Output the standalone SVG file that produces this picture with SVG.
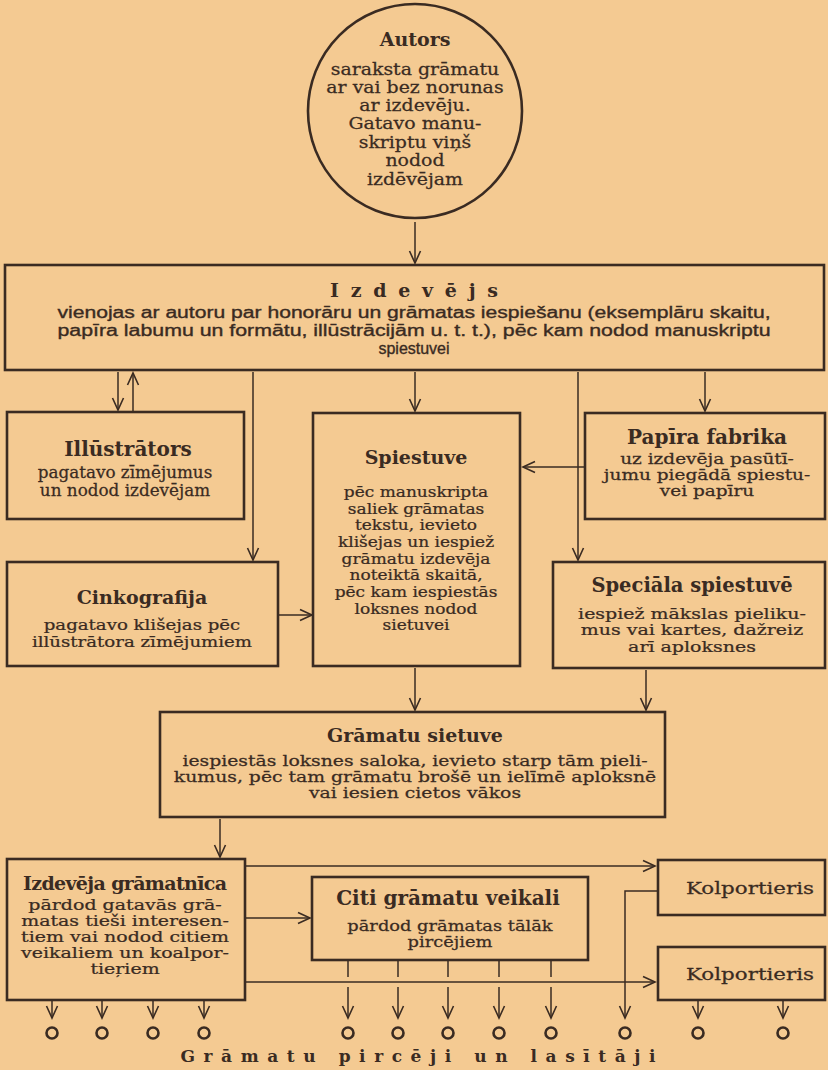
<svg xmlns="http://www.w3.org/2000/svg" width="828" height="1070" viewBox="0 0 828 1070">
<defs>
<style>
.bg{fill:#F4CA92}
.box{fill:none;stroke:#3a2b22;stroke-width:2.6}
.ln{fill:none;stroke:#3a2b22;stroke-width:1.5}
.arr{fill:none;stroke:#3a2b22;stroke-width:1.5;marker-end:url(#v)}
.t{font-family:"DejaVu Serif","Liberation Serif",serif;font-weight:bold;font-size:19px;fill:#3a2b22;text-anchor:middle}
.b{font-family:"DejaVu Serif","Liberation Serif",serif;font-size:15px;fill:#3a2b22;stroke:#3a2b22;stroke-width:0.25;text-anchor:middle}
.s{font-family:"Liberation Sans",sans-serif;font-size:16px;fill:#3a2b22;stroke:#3a2b22;stroke-width:0.35;text-anchor:middle}
.rd{fill:none;stroke:#3a2b22;stroke-width:2.6}
</style>
<marker id="v" viewBox="0 0 14 14" refX="12" refY="6" markerWidth="14" markerHeight="14" markerUnits="userSpaceOnUse" orient="auto" overflow="visible">
<path d="M0,0.5 L12,6 L0,11.5" fill="none" stroke="#3a2b22" stroke-width="1.6"/>
</marker>
</defs>
<rect class="bg" x="0" y="0" width="828" height="1070"/>

<g id="connectors">
<line class="arr" x1="415" y1="222" x2="415" y2="263"/>
<line class="arr" x1="118" y1="372" x2="118" y2="410"/>
<line class="arr" x1="133" y1="411" x2="133" y2="373"/>
<line class="arr" x1="253" y1="372" x2="253" y2="560"/>
<line class="arr" x1="415" y1="372" x2="415" y2="411"/>
<line class="arr" x1="578" y1="372" x2="578" y2="560"/>
<line class="arr" x1="705" y1="372" x2="705" y2="411"/>
<line class="arr" x1="585" y1="467" x2="523" y2="467"/>
<line class="arr" x1="279" y1="615" x2="312" y2="615"/>
<line class="arr" x1="415" y1="668" x2="415" y2="710"/>
<line class="arr" x1="646" y1="670" x2="646" y2="710"/>
<line class="arr" x1="220" y1="819" x2="220" y2="857"/>
<line class="arr" x1="246" y1="866" x2="655" y2="866"/>
<line class="arr" x1="246" y1="918" x2="310" y2="918"/>
<line class="arr" x1="246" y1="982" x2="655" y2="982"/>
<polyline class="arr" points="658,891 625,891 625,1018"/>
<line class="ln" x1="348" y1="961" x2="348" y2="977"/>
<line class="ln" x1="398" y1="961" x2="398" y2="977"/>
<line class="ln" x1="448" y1="961" x2="448" y2="977"/>
<line class="ln" x1="499" y1="961" x2="499" y2="977"/>
<line class="ln" x1="551" y1="961" x2="551" y2="977"/>
<line class="arr" x1="348" y1="987" x2="348" y2="1018"/>
<line class="arr" x1="398" y1="987" x2="398" y2="1018"/>
<line class="arr" x1="448" y1="987" x2="448" y2="1018"/>
<line class="arr" x1="499" y1="987" x2="499" y2="1018"/>
<line class="arr" x1="551" y1="987" x2="551" y2="1018"/>
<line class="arr" x1="52" y1="1001" x2="52" y2="1018"/>
<line class="arr" x1="102" y1="1001" x2="102" y2="1018"/>
<line class="arr" x1="153" y1="1001" x2="153" y2="1018"/>
<line class="arr" x1="204" y1="1001" x2="204" y2="1018"/>
<line class="arr" x1="698" y1="1001" x2="698" y2="1018"/>
<line class="arr" x1="783" y1="1001" x2="783" y2="1018"/>
</g>

<g id="autors">
<circle class="box" cx="415" cy="111" r="107"/>
<text class="t" x="415" y="46">Autors</text>
<g transform="matrix(1.145,0,0,1,-60.2,0)">
<text class="b" x="415" y="75" style="font-size:16.5px">saraksta grāmatu</text>
<text class="b" x="415" y="93" style="font-size:16.5px">ar vai bez norunas</text>
<text class="b" x="415" y="111" style="font-size:16.5px">ar izdevēju.</text>
<text class="b" x="415" y="129" style="font-size:16.5px">Gatavo manu-</text>
<text class="b" x="415" y="148" style="font-size:16.5px">skriptu viņš</text>
<text class="b" x="415" y="166" style="font-size:16.5px">nodod</text>
<text class="b" x="415" y="185" style="font-size:16.5px">izdēvējam</text>
</g>
</g>

<g id="izdevejs">
<rect class="box" x="5" y="265" width="819" height="105"/>
<text class="t" x="414" y="297" textLength="168">Izdevējs</text>
<text class="s" x="414" y="318" textLength="713" lengthAdjust="spacingAndGlyphs">vienojas ar autoru par honorāru un grāmatas iespiešanu (eksemplāru skaitu,</text>
<text class="s" x="414" y="336" textLength="713" lengthAdjust="spacingAndGlyphs">papīra labumu un formātu, illūstrācijām u. t. t.), pēc kam nodod manuskriptu</text>
<text class="s" x="414" y="354">spiestuvei</text>
</g>

<g id="illustrators">
<rect class="box" x="7" y="412" width="237" height="107"/>
<text class="t" x="128" y="456" style="font-size:20px">Illūstrātors</text>
<g transform="matrix(1.05,0,0,1,-6.25,0)">
<text class="b" x="125" y="478" style="font-size:16px">pagatavo zīmējumus</text>
<text class="b" x="125" y="496" style="font-size:16px">un nodod izdevējam</text>
</g>
</g>

<g id="cinkografija">
<rect class="box" x="7" y="562" width="271" height="104"/>
<text class="t" x="142" y="604">Cinkografija</text>
<g transform="matrix(1.171,0,0,1,-24.3,0)">
<text class="b" x="142" y="630" style="font-size:15.5px">pagatavo klišejas pēc</text>
<text class="b" x="142" y="647" style="font-size:15.5px">illūstrātora zīmējumiem</text>
</g>
</g>

<g id="spiestuve">
<rect class="box" x="313" y="413" width="207" height="253"/>
<text class="t" x="416" y="464">Spiestuve</text>
<g transform="matrix(1.133,0,0,1,-55.3,0)">
<text class="b" x="416" y="497">pēc manuskripta</text>
<text class="b" x="416" y="514">saliek grāmatas</text>
<text class="b" x="416" y="530">tekstu, ievieto</text>
<text class="b" x="416" y="547">klišejas un iespiež</text>
<text class="b" x="416" y="564">grāmatu izdevēja</text>
<text class="b" x="416" y="580">noteiktā skaitā,</text>
<text class="b" x="416" y="597">pēc kam iespiestās</text>
<text class="b" x="416" y="614">loksnes nodod</text>
<text class="b" x="416" y="630">sietuvei</text>
</g>
</g>

<g id="papira-fabrika">
<rect class="box" x="585" y="413" width="240" height="106"/>
<text class="t" x="707" y="444" style="font-size:20px">Papīra fabrika</text>
<g transform="matrix(1.232,0,0,1,-164,0)">
<text class="b" x="707" y="464">uz izdevēja pasūtī-</text>
<text class="b" x="707" y="480">jumu piegādā spiestu-</text>
<text class="b" x="707" y="496">vei papīru</text>
</g>
</g>

<g id="speciala-spiestuve">
<rect class="box" x="553" y="562" width="272" height="106"/>
<text class="t" x="692" y="592" style="font-size:19.5px">Speciāla spiestuvē</text>
<g transform="matrix(1.265,0,0,1,-183.4,0)">
<text class="b" x="692" y="619">iespiež mākslas pieliku-</text>
<text class="b" x="692" y="635">mus vai kartes, dažreiz</text>
<text class="b" x="692" y="652">arī aploksnes</text>
</g>
</g>

<g id="gramatu-sietuve">
<rect class="box" x="160" y="712" width="505" height="105"/>
<text class="t" x="415" y="742">Grāmatu sietuve</text>
<g transform="matrix(1.254,0,0,1,-105.4,0)">
<text class="b" x="415" y="766">iespiestās loksnes saloka, ievieto starp tām pieli-</text>
<text class="b" x="415" y="782">kumus, pēc tam grāmatu brošē un ielīmē aploksnē</text>
<text class="b" x="415" y="798">vai iesien cietos vākos</text>
</g>
</g>

<g id="izdeveja-gramatnica">
<rect class="box" x="7" y="859" width="238" height="141"/>
<text class="t" x="125" y="890" textLength="204">Izdevēja grāmatnīca</text>
<g transform="matrix(1.265,0,0,1,-33.1,0)">
<text class="b" x="125" y="910">pārdod gatavās grā-</text>
<text class="b" x="125" y="926">matas tieši interesen-</text>
<text class="b" x="125" y="942">tiem vai nodod citiem</text>
<text class="b" x="125" y="958">veikaliem un koalpor-</text>
<text class="b" x="125" y="974">tieŗiem</text>
</g>
</g>

<g id="citi-gramatu-veikali">
<rect class="box" x="312" y="877" width="276" height="83"/>
<text class="t" x="448" y="905" style="font-size:20px">Citi grāmatu veikali</text>
<g transform="matrix(1.188,0,0,1,-84.6,0)">
<text class="b" x="450" y="931">pārdod grāmatas tālāk</text>
<text class="b" x="450" y="947">pircējiem</text>
</g>
</g>

<g id="kolportieris-1">
<rect class="box" x="658" y="860" width="167" height="55"/>
<g transform="matrix(1.298,0,0,1,-223.5,0)">
<text class="b" x="750" y="894" style="font-size:16.5px">Kolportieris</text>
</g>
</g>

<g id="kolportieris-2">
<rect class="box" x="658" y="947" width="167" height="53"/>
<g transform="matrix(1.298,0,0,1,-223.5,0)">
<text class="b" x="750" y="980" style="font-size:16.5px">Kolportieris</text>
</g>
</g>

<g id="lasitaji">
<circle class="rd" cx="52" cy="1033" r="5.5"/>
<circle class="rd" cx="102" cy="1033" r="5.5"/>
<circle class="rd" cx="153" cy="1033" r="5.5"/>
<circle class="rd" cx="204" cy="1033" r="5.5"/>
<circle class="rd" cx="348" cy="1033" r="5.5"/>
<circle class="rd" cx="398" cy="1033" r="5.5"/>
<circle class="rd" cx="448" cy="1033" r="5.5"/>
<circle class="rd" cx="499" cy="1033" r="5.5"/>
<circle class="rd" cx="551" cy="1033" r="5.5"/>
<circle class="rd" cx="625" cy="1033" r="5.5"/>
<circle class="rd" cx="698" cy="1033" r="5.5"/>
<circle class="rd" cx="783" cy="1033" r="5.5"/>
<text class="t" x="418" y="1062" textLength="475" style="font-size:17px">Grāmatu pircēji un lasītāji</text>
</g>
</svg>
